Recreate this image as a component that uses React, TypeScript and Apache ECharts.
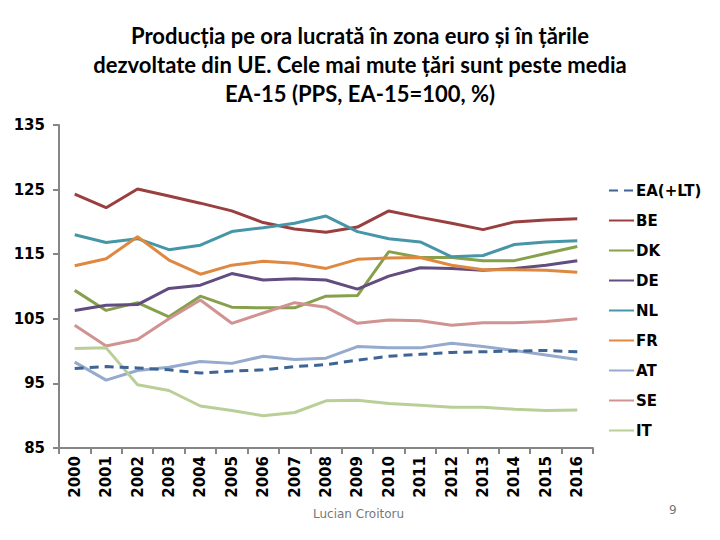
import React, { useEffect, useRef } from "react";
import * as echarts from "echarts";

const years = ["2000","2001","2002","2003","2004","2005","2006","2007","2008","2009","2010","2011","2012","2013","2014","2015","2016"];
const yTicks = [85, 95, 105, 115, 125, 135];

const EA = [97.3, 97.6, 97.4, 97.1, 96.6, 96.9, 97.1, 97.6, 97.9, 98.6, 99.2, 99.5, 99.8, 99.9, 100.0, 100.1, 99.9];
const BE = [124.3, 122.2, 125.1, 124.0, 122.9, 121.7, 119.9, 118.9, 118.4, 119.2, 121.7, 120.7, 119.8, 118.8, 120.0, 120.3, 120.5];
const DK = [109.4, 106.3, 107.5, 105.3, 108.5, 106.8, 106.7, 106.7, 108.5, 108.6, 115.4, 114.5, 114.5, 114.0, 114.0, 115.1, 116.2];
const DE = [106.3, 107.1, 107.2, 109.7, 110.2, 112.0, 111.0, 111.2, 111.0, 109.6, 111.6, 112.9, 112.8, 112.5, 112.8, 113.3, 114.0];
const NL = [118.0, 116.8, 117.4, 115.7, 116.4, 118.5, 119.1, 119.8, 120.9, 118.5, 117.4, 116.9, 114.6, 114.8, 116.5, 116.9, 117.1];
const FR = [113.2, 114.3, 117.7, 114.1, 111.9, 113.3, 113.9, 113.6, 112.8, 114.2, 114.4, 114.5, 113.3, 112.6, 112.6, 112.5, 112.2];
const AT = [98.3, 95.5, 97.0, 97.5, 98.4, 98.1, 99.2, 98.7, 98.9, 100.7, 100.5, 100.5, 101.2, 100.7, 100.1, 99.4, 98.7];
const SE = [104.0, 100.8, 101.8, 105.0, 107.9, 104.3, 105.9, 107.5, 106.8, 104.3, 104.8, 104.7, 104.0, 104.4, 104.4, 104.6, 105.0];
const IT = [100.4, 100.5, 94.8, 93.9, 91.5, 90.8, 90.0, 90.5, 92.3, 92.4, 91.9, 91.6, 91.3, 91.3, 91.0, 90.8, 90.9];

const seriesDefs = [
  { name: "EA(+LT)", data: EA, color: "#3E6495", dashed: true },
  { name: "BE", data: BE, color: "#9A3F3F" },
  { name: "DK", data: DK, color: "#86A04C" },
  { name: "DE", data: DE, color: "#624C80" },
  { name: "NL", data: NL, color: "#4696A8" },
  { name: "FR", data: FR, color: "#DE8840" },
  { name: "AT", data: AT, color: "#95AACD" },
  { name: "SE", data: SE, color: "#D09392" },
  { name: "IT", data: IT, color: "#BACF98" },
];

const titleLines = [
  "Producția pe ora lucrată în zona euro și în țările",
  "dezvoltate din UE. Cele mai mute țări sunt peste media",
  "EA-15 (PPS, EA-15=100, %)",
];

export default function App() {
  const ref = useRef<HTMLDivElement>(null);
  useEffect(() => {
    if (!ref.current) return;
    const chart = echarts.init(ref.current, undefined, { renderer: "svg" });
    const labelFont = { fontFamily: "DejaVu Sans", fontWeight: "bold" as const, fontSize: 15, color: "#000" };
    chart.setOption({
      animation: false,
      backgroundColor: "#fff",
      grid: { left: 59, top: 125, right: 127, bottom: 92, containLabel: false },
      legend: {
        orient: "vertical",
        left: 603,
        top: 178,
        itemWidth: 25,
        itemHeight: 10,
        itemGap: 15,
        itemStyle: { opacity: 0 },
        lineStyle: { width: 2 },
        textStyle: { ...labelFont, padding: [0, 0, 0, -3] },
        data: seriesDefs.map((s) => s.name),
      },
      xAxis: {
        type: "category",
        data: years,
        boundaryGap: true,
        axisLine: { lineStyle: { color: "#868686", width: 2 } },
        axisTick: { show: true, length: 6, lineStyle: { color: "#868686", width: 2 } },
        axisLabel: { ...labelFont, rotate: 90, margin: 8, interval: 0 },
        splitLine: { show: false },
      },
      yAxis: {
        type: "value",
        min: 85,
        max: 135,
        axisLine: { show: true, lineStyle: { color: "#868686", width: 2 } },
        axisTick: { show: true, length: 6, customValues: yTicks, lineStyle: { color: "#868686", width: 2 } },
        axisLabel: { ...labelFont, margin: 14, customValues: yTicks },
        splitLine: { show: false },
      },
      series: seriesDefs.map((s) => ({
        name: s.name,
        type: "line",
        data: s.data,
        symbol: "none",
        showSymbol: false,
        color: s.color,
        lineStyle: { color: s.color, width: 3, type: s.dashed ? [9, 6] : "solid" },
        z: s.dashed ? 10 : 2,
      })),
      graphic: [
        ...titleLines.map((t, i) => ({
          type: "text",
          left: "center",
          top: 24 + i * 29,
          style: { text: t, font: "bold 22px Lato", fill: "#000" },
        })),
        {
          type: "text",
          left: 313,
          top: 508,
          style: { text: "Lucian Croitoru", font: "12px 'DejaVu Sans'", fill: "#777" },
        },
        {
          type: "text",
          left: 669,
          top: 504,
          style: { text: "9", font: "12px 'DejaVu Sans'", fill: "#777" },
        },
      ],
    });
    return () => chart.dispose();
  }, []);
  return <div ref={ref} style={{ position: "fixed", left: 0, top: 0, width: 720, height: 540 }} />;
}
